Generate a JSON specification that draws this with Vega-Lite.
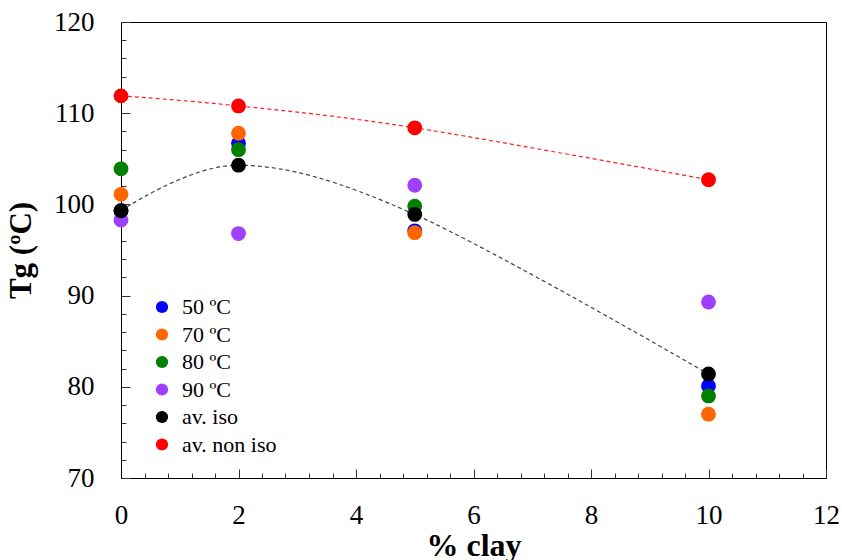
{
  "$schema": "https://vega.github.io/schema/vega-lite/v6.json",
  "width": 705,
  "height": 456,
  "autosize": {"type": "none"},
  "padding": {"left": 121, "top": 22, "right": 16, "bottom": 82},
  "background": "white",
  "config": {
    "view": {"stroke": "black", "strokeWidth": 1},
    "font": "Liberation Serif",
    "axis": {"labelFont": "Liberation Serif", "titleFont": "Liberation Serif"},
    "legend": {"labelFont": "Liberation Serif"}
  },
  "data": {
    "values": [
      {"clay": 0, "series": "50 ºC", "Tg": 99.3},
      {"clay": 2, "series": "50 ºC", "Tg": 106.7},
      {"clay": 5, "series": "50 ºC", "Tg": 97.1},
      {"clay": 10, "series": "50 ºC", "Tg": 80.1},
      {"clay": 0, "series": "70 ºC", "Tg": 101.1},
      {"clay": 2, "series": "70 ºC", "Tg": 107.8},
      {"clay": 5, "series": "70 ºC", "Tg": 96.9},
      {"clay": 10, "series": "70 ºC", "Tg": 77.0},
      {"clay": 0, "series": "80 ºC", "Tg": 103.9},
      {"clay": 2, "series": "80 ºC", "Tg": 106.0},
      {"clay": 5, "series": "80 ºC", "Tg": 99.8},
      {"clay": 10, "series": "80 ºC", "Tg": 79.0},
      {"clay": 0, "series": "90 ºC", "Tg": 98.3},
      {"clay": 2, "series": "90 ºC", "Tg": 96.8},
      {"clay": 5, "series": "90 ºC", "Tg": 102.1},
      {"clay": 10, "series": "90 ºC", "Tg": 89.3},
      {"clay": 0, "series": "av. iso", "Tg": 99.3},
      {"clay": 2, "series": "av. iso", "Tg": 104.3},
      {"clay": 5, "series": "av. iso", "Tg": 98.9},
      {"clay": 10, "series": "av. iso", "Tg": 81.4},
      {"clay": 0, "series": "av. non iso", "Tg": 111.9},
      {"clay": 2, "series": "av. non iso", "Tg": 110.8},
      {"clay": 5, "series": "av. non iso", "Tg": 108.4},
      {"clay": 10, "series": "av. non iso", "Tg": 102.7}
    ]
  },
  "encoding": {
    "x": {
      "field": "clay", "type": "quantitative",
      "scale": {"domain": [0, 12], "nice": false, "zero": false},
      "axis": {
        "title": "% clay",
        "values": [0,0.4,0.8,1.2,1.6,2,2.4,2.8,3.2,3.6,4,4.4,4.8,5.2,5.6,6,6.4,6.8,7.2,7.6,8,8.4,8.8,9.2,9.6,10,10.4,10.8,11.2,11.6,12],
        "labelExpr": "abs(datum.value - round(datum.value/2)*2) < 0.01 ? format(datum.value, 'd') : ''",
        "labelOverlap": false,
        "tickSize": {"condition": {"test": "abs(datum.value - round(datum.value/2)*2) < 0.01", "value": -9}, "value": -5},
        "tickColor": "#333333",
        "domainColor": "black",
        "grid": false,
        "labelFont": "Liberation Serif",
        "labelFontSize": 27,
        "labelColor": "black",
        "labelPadding": 33,
        "labelFlush": false,
        "titleFont": "Liberation Serif",
        "titleFontSize": 32,
        "titleFontWeight": "bold",
        "titleColor": "black",
        "titlePadding": -2
      }
    },
    "y": {
      "field": "Tg", "type": "quantitative",
      "scale": {"domain": [70, 120], "nice": false, "zero": false},
      "axis": {
        "title": "Tg (ºC)",
        "values": [70,72,74,76,78,80,82,84,86,88,90,92,94,96,98,100,102,104,106,108,110,112,114,116,118,120],
        "labelExpr": "datum.value % 10 === 0 ? format(datum.value, 'd') : ''",
        "labelOverlap": false,
        "tickSize": {"condition": {"test": "datum.value % 10 === 0", "value": -9}, "value": -5},
        "tickColor": "#333333",
        "domainColor": "black",
        "grid": false,
        "labelFont": "Liberation Serif",
        "labelFontSize": 27,
        "labelColor": "black",
        "labelPadding": 36,
        "labelFlush": false,
        "titleFont": "Liberation Serif",
        "titleFontSize": 31,
        "titleFontWeight": "bold",
        "titleColor": "black",
        "titlePadding": 16
      }
    }
  },
  "layer": [
    {
      "transform": [{"filter": "datum.series === 'av. iso' || datum.series === 'av. non iso'"}],
      "mark": {"type": "line", "interpolate": "cardinal", "strokeDash": [4, 3], "strokeWidth": 1.2},
      "encoding": {
        "color": {
          "field": "series", "type": "nominal", "legend": null,
          "scale": {
            "domain": ["50 ºC", "70 ºC", "80 ºC", "90 ºC", "av. iso", "av. non iso"],
            "range": ["#0000FF", "#FF6600", "#008000", "#A040FF", "#444444", "#FF2020"]
          }
        }
      }
    },
    {
      "mark": {"type": "point", "filled": true, "shape": "circle", "size": 220, "opacity": 1},
      "encoding": {
        "color": {
          "field": "series", "type": "nominal",
          "scale": {
            "domain": ["50 ºC", "70 ºC", "80 ºC", "90 ºC", "av. iso", "av. non iso"],
            "range": ["#0000FF", "#FF6600", "#008000", "#A040FF", "#000000", "#FF0000"]
          },
          "legend": {
            "title": null,
            "orient": "none",
            "legendX": 26,
            "legendY": 274,
            "symbolType": "circle",
            "symbolSize": 150,
            "labelFont": "Liberation Serif",
            "labelFontSize": 22,
            "labelColor": "black",
            "rowPadding": 5.5,
            "symbolOffset": 4,
            "labelOffset": 9
          }
        }
      }
    }
  ],
  "resolve": {"scale": {"color": "independent"}}
}
